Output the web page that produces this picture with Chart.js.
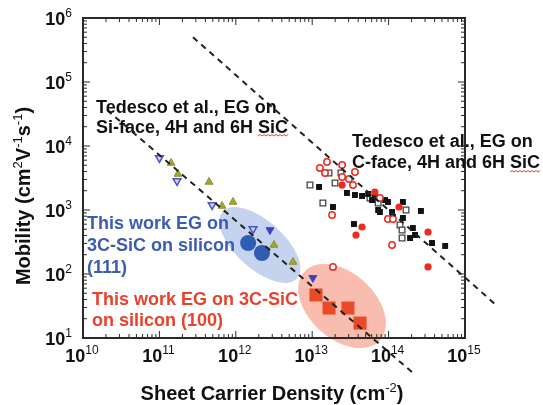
<!DOCTYPE html>
<html>
<head>
<meta charset="utf-8">
<script src="https://cdn.jsdelivr.net/npm/chart.js@4.4.1/dist/chart.umd.min.js"></script>
<style>
  html, body { margin: 0; padding: 0; background: #fff; }
</style>
</head>
<body>
<canvas id="chart" width="543" height="405"></canvas>
<script>
// axis ranges / ticks
const xDecades = [10, 11, 12, 13, 14, 15];
const yDecades = [1, 2, 3, 4, 5, 6];

// Tedesco et al., Si-face
const siOpenTriX = [1.0e11, 1.7e11, 4.9e11, 1.68e12];
const siOpenTriY = [6500, 2840, 1200, 505];
const siFilledTriX = [2.8e12, 1.02e13];
const siFilledTriY = [487, 87];
const siOliveX = [1.42e11, 1.75e11, 4.46e11, 6.6e11, 9.2e11, 3.16e12, 5.6e12];
const siOliveY = [5420, 3650, 2740, 1155, 1334, 284, 154];

// Tedesco et al., C-face
const cRedOpenX = [1.56e13, 1.26e13, 1.47e13, 2.46e13, 3.63e13, 2.46e13, 3.03e13, 3.42e13, 1.82e13, 7.7e13, 9.8e13, 1.14e14, 1.11e14, 1.87e13];
const cRedOpenY = [5620, 4530, 3790, 5050, 3920, 3280, 3050, 2460, 835, 1540, 723, 723, 284, 129];
const cRedFilledX = [2.46e13, 6.6e13, 1.37e14, 4.49e13, 3.74e13, 3.28e14, 3.28e14];
const cRedFilledY = [2460, 1910, 1114, 542, 407, 453, 129];
const cBlackOpenX = [1.66e13, 2.38e13, 9.35e12, 1.99e13, 1.38e13, 5.7e13, 1.69e14, 1.41e14, 1.5e14, 1.5e14, 7.3e13];
const cBlackOpenY = [3790, 3790, 2460, 2640, 1285, 1540, 1000, 583, 365, 487, 1285];
const cBlackFilledX = [1.23e13, 1.87e13, 2.85e13, 3.63e13, 4.49e13, 5.4e13, 9.0e13, 9.8e13, 1.54e14, 7.3e13, 1.11e14, 1.54e14, 2.65e14, 3.52e13, 2.08e14, 2.22e14, 1.91e14, 3.7e14, 5.5e14, 6.6e13, 1.14e14, 7.7e13, 6.07e13];
const cBlackFilledY = [2290, 1114, 1845, 1715, 1655, 1780, 1430, 1334, 1334, 1000, 930, 750, 965, 604, 523, 407, 365, 305, 274, 1600, 778, 930, 1430];

// This work
const work111X = [1.45e12, 2.2e12];
const work111Y = [305, 213];
const work100X = [1.12e13, 1.66e13, 2.94e13, 4.23e13];
const work100Y = [47, 29.4, 29.4, 17.1];

// dashed guide lines (end points)
const fitSiX = [2.06e10, 2.02e14];
const fitSiY = [36500, 2.94];
const fitCX = [2.75e11, 2.47e15];
const fitCY = [501000, 33.9];

// highlight ellipses (centre in data units)
const ellipses = [
  { x: 2.07e12, y: 284, rx: 50, ry: 24, angle: 42, color: '#c6d3ef' },
  { x: 2.46e13, y: 31.6, rx: 51, ry: 33, angle: 42, color: '#f9bdb0' }
];

const pts = (xs, ys) => xs.map((v, i) => ({ x: v, y: ys[i] }));

const FONT = '"Liberation Sans", Arial, sans-serif';

function drawSup(ctx, parts, x, y, big, small, align) {
    // parts: [[text, isSup], ...]
    let w = 0;
    parts.forEach(p => {
        ctx.font = p[1] ? `${small}px ${FONT}` : `bold ${big}px ${FONT}`;
        w += ctx.measureText(p[0]).width;
    });
    let cx = align === 'center' ? x - w / 2 : (align === 'right' ? x - w : x);
    ctx.textAlign = 'left';
    ctx.textBaseline = 'alphabetic';
    parts.forEach(p => {
        ctx.font = p[1] ? `${small}px ${FONT}` : `bold ${big}px ${FONT}`;
        ctx.fillText(p[0], cx, p[1] ? y - big * 0.42 : y);
        cx += ctx.measureText(p[0]).width;
    });
}

function squiggle(ctx, x1, x2, y) {
    ctx.save();
    ctx.strokeStyle = '#e23b3b';
    ctx.lineWidth = 1;
    ctx.beginPath();
    ctx.moveTo(x1, y);
    let up = true;
    for (let px = x1 + 2; px <= x2; px += 2) {
        ctx.lineTo(px, up ? y - 1.5 : y);
        up = !up;
    }
    ctx.stroke();
    ctx.restore();
}

const decor = {
    id: 'decor',
    beforeDatasetsDraw(chart) {
        const { ctx, scales: { x, y } } = chart;
        ellipses.forEach(e => {
            ctx.save();
            ctx.fillStyle = e.color;
            ctx.beginPath();
            ctx.ellipse(x.getPixelForValue(e.x), y.getPixelForValue(e.y), e.rx, e.ry, e.angle * Math.PI / 180, 0, Math.PI * 2);
            ctx.fill();
            ctx.restore();
        });
    },
    afterDraw(chart) {
        const { ctx, chartArea: a, scales: { x, y } } = chart;
        ctx.save();
        ctx.strokeStyle = '#2a2a2a';

        // minor / major ticks, all four sides, pointing inward
        ctx.lineWidth = 1;
        ctx.beginPath();
        xDecades.forEach(d => {
            for (let m = 1; m <= 9; m++) {
                if (d === 15 && m > 1) break;
                const px = x.getPixelForValue(m * Math.pow(10, d));
                const len = m === 1 ? 7 : 4;
                ctx.moveTo(px, a.bottom); ctx.lineTo(px, a.bottom - len);
                ctx.moveTo(px, a.top); ctx.lineTo(px, a.top + len);
            }
        });
        yDecades.forEach(d => {
            for (let m = 1; m <= 9; m++) {
                if (d === 6 && m > 1) break;
                const py = y.getPixelForValue(m * Math.pow(10, d));
                const len = m === 1 ? 7 : 4;
                ctx.moveTo(a.left, py); ctx.lineTo(a.left + len, py);
                ctx.moveTo(a.right, py); ctx.lineTo(a.right - len, py);
            }
        });
        ctx.stroke();

        // frame
        ctx.lineWidth = 2;
        ctx.strokeRect(a.left, a.top, a.right - a.left, a.bottom - a.top);

        // tick labels
        ctx.fillStyle = '#111';
        xDecades.forEach(d => {
            const px = x.getPixelForValue(Math.pow(10, d));
            drawSup(ctx, [['10', false], [String(d), true]], px - 1, a.bottom + 24, 18, 12, 'center');
        });
        yDecades.forEach(d => {
            const py = y.getPixelForValue(Math.pow(10, d));
            drawSup(ctx, [['10', false], [String(d), true]], a.left - 11, py + 7, 18, 12, 'right');
        });

        // axis titles
        drawSup(ctx, [['Sheet Carrier Density (cm', false], ['-2', true], [')', false]], (a.left + a.right) / 2 - 2, 400, 20, 13, 'center');
        ctx.save();
        ctx.translate(30, 196);
        ctx.rotate(-Math.PI / 2);
        drawSup(ctx, [['Mobility (cm', false], ['2', true], ['V', false], ['-1', true], ['s', false], ['-1', true], [')', false]], 0, 0, 20, 13, 'center');
        ctx.restore();

        // annotations
        ctx.textAlign = 'left';
        ctx.textBaseline = 'alphabetic';
        ctx.font = `bold 18px ${FONT}`;
        ctx.fillStyle = '#111';
        ctx.fillText('Tedesco et al., EG on', 96, 113);
        ctx.fillText('Si-face, 4H and 6H SiC', 96, 133);
        let pre = ctx.measureText('Si-face, 4H and 6H ').width;
        let sic = ctx.measureText('SiC').width;
        squiggle(ctx, 96 + pre, 96 + pre + sic, 136);

        ctx.fillText('Tedesco et al., EG on', 352, 147);
        ctx.fillText('C-face, 4H and 6H SiC', 352, 168);
        pre = ctx.measureText('C-face, 4H and 6H ').width;
        squiggle(ctx, 352 + pre, 352 + pre + sic, 172);

        ctx.fillStyle = '#3a5cb3';
        ctx.fillText('This work EG on', 87, 229);
        ctx.fillText('3C-SiC on silicon', 87, 251);
        ctx.fillText('(111)', 87, 273);

        ctx.fillStyle = '#e8412c';
        ctx.fillText('This work EG on 3C-SiC', 92, 305);
        ctx.fillText('on silicon (100)', 92, 326);
        ctx.restore();
    }
};

const ctx = document.getElementById('chart').getContext('2d');
new Chart(ctx, {
    type: 'scatter',
    data: {
        datasets: [
            { data: pts(fitSiX, fitSiY), showLine: true, borderColor: '#222', borderWidth: 2, borderDash: [6, 5], pointRadius: 0, clip: false },
            { data: pts(fitCX, fitCY), showLine: true, borderColor: '#222', borderWidth: 2, borderDash: [6, 5], pointRadius: 0, clip: false },
            { data: pts(work100X, work100Y), pointStyle: 'rect', pointRadius: 9.2, backgroundColor: '#ea4a26', borderColor: '#ea4a26', borderWidth: 0 },
            { data: pts(work111X, work111Y), pointStyle: 'circle', pointRadius: 8, backgroundColor: '#2e5db3', borderColor: '#2e5db3', borderWidth: 0 },
            { data: pts(siFilledTriX, siFilledTriY), pointStyle: 'triangle', rotation: 180, pointRadius: 4.5, backgroundColor: '#3e40c2', borderColor: '#3e40c2', borderWidth: 1 },
            { data: pts(siOpenTriX, siOpenTriY), pointStyle: 'triangle', rotation: 180, pointRadius: 4.5, backgroundColor: '#cfd3f3', borderColor: '#4a57c6', borderWidth: 1.5 },
            { data: pts(siOliveX, siOliveY), pointStyle: 'triangle', pointRadius: 4.5, backgroundColor: '#a2a53a', borderColor: '#8f921f', borderWidth: 1 },
            { data: pts(cRedFilledX, cRedFilledY), pointStyle: 'circle', pointRadius: 3.6, backgroundColor: '#f02a20', borderColor: '#f02a20', borderWidth: 0 },
            { data: pts(cRedOpenX, cRedOpenY), pointStyle: 'circle', pointRadius: 3.2, backgroundColor: '#fff', borderColor: '#f02a20', borderWidth: 1.5 },
            { data: pts(cBlackFilledX, cBlackFilledY), pointStyle: 'rect', pointRadius: 4.2, backgroundColor: '#111', borderColor: '#111', borderWidth: 0 },
            { data: pts(cBlackOpenX, cBlackOpenY), pointStyle: 'rect', pointRadius: 4, backgroundColor: '#fff', borderColor: '#444', borderWidth: 1.3 }
        ]
    },
    options: {
        responsive: false,
        animation: false,
        layout: { padding: { left: 83, top: 18, right: 78, bottom: 67 } },
        plugins: { legend: { display: false }, tooltip: { enabled: false } },
        scales: {
            x: { type: 'logarithmic', min: 1e10, max: 1e15, display: false },
            y: { type: 'logarithmic', min: 10, max: 1e6, display: false }
        }
    },
    plugins: [decor]
});
</script>
</body>
</html>
